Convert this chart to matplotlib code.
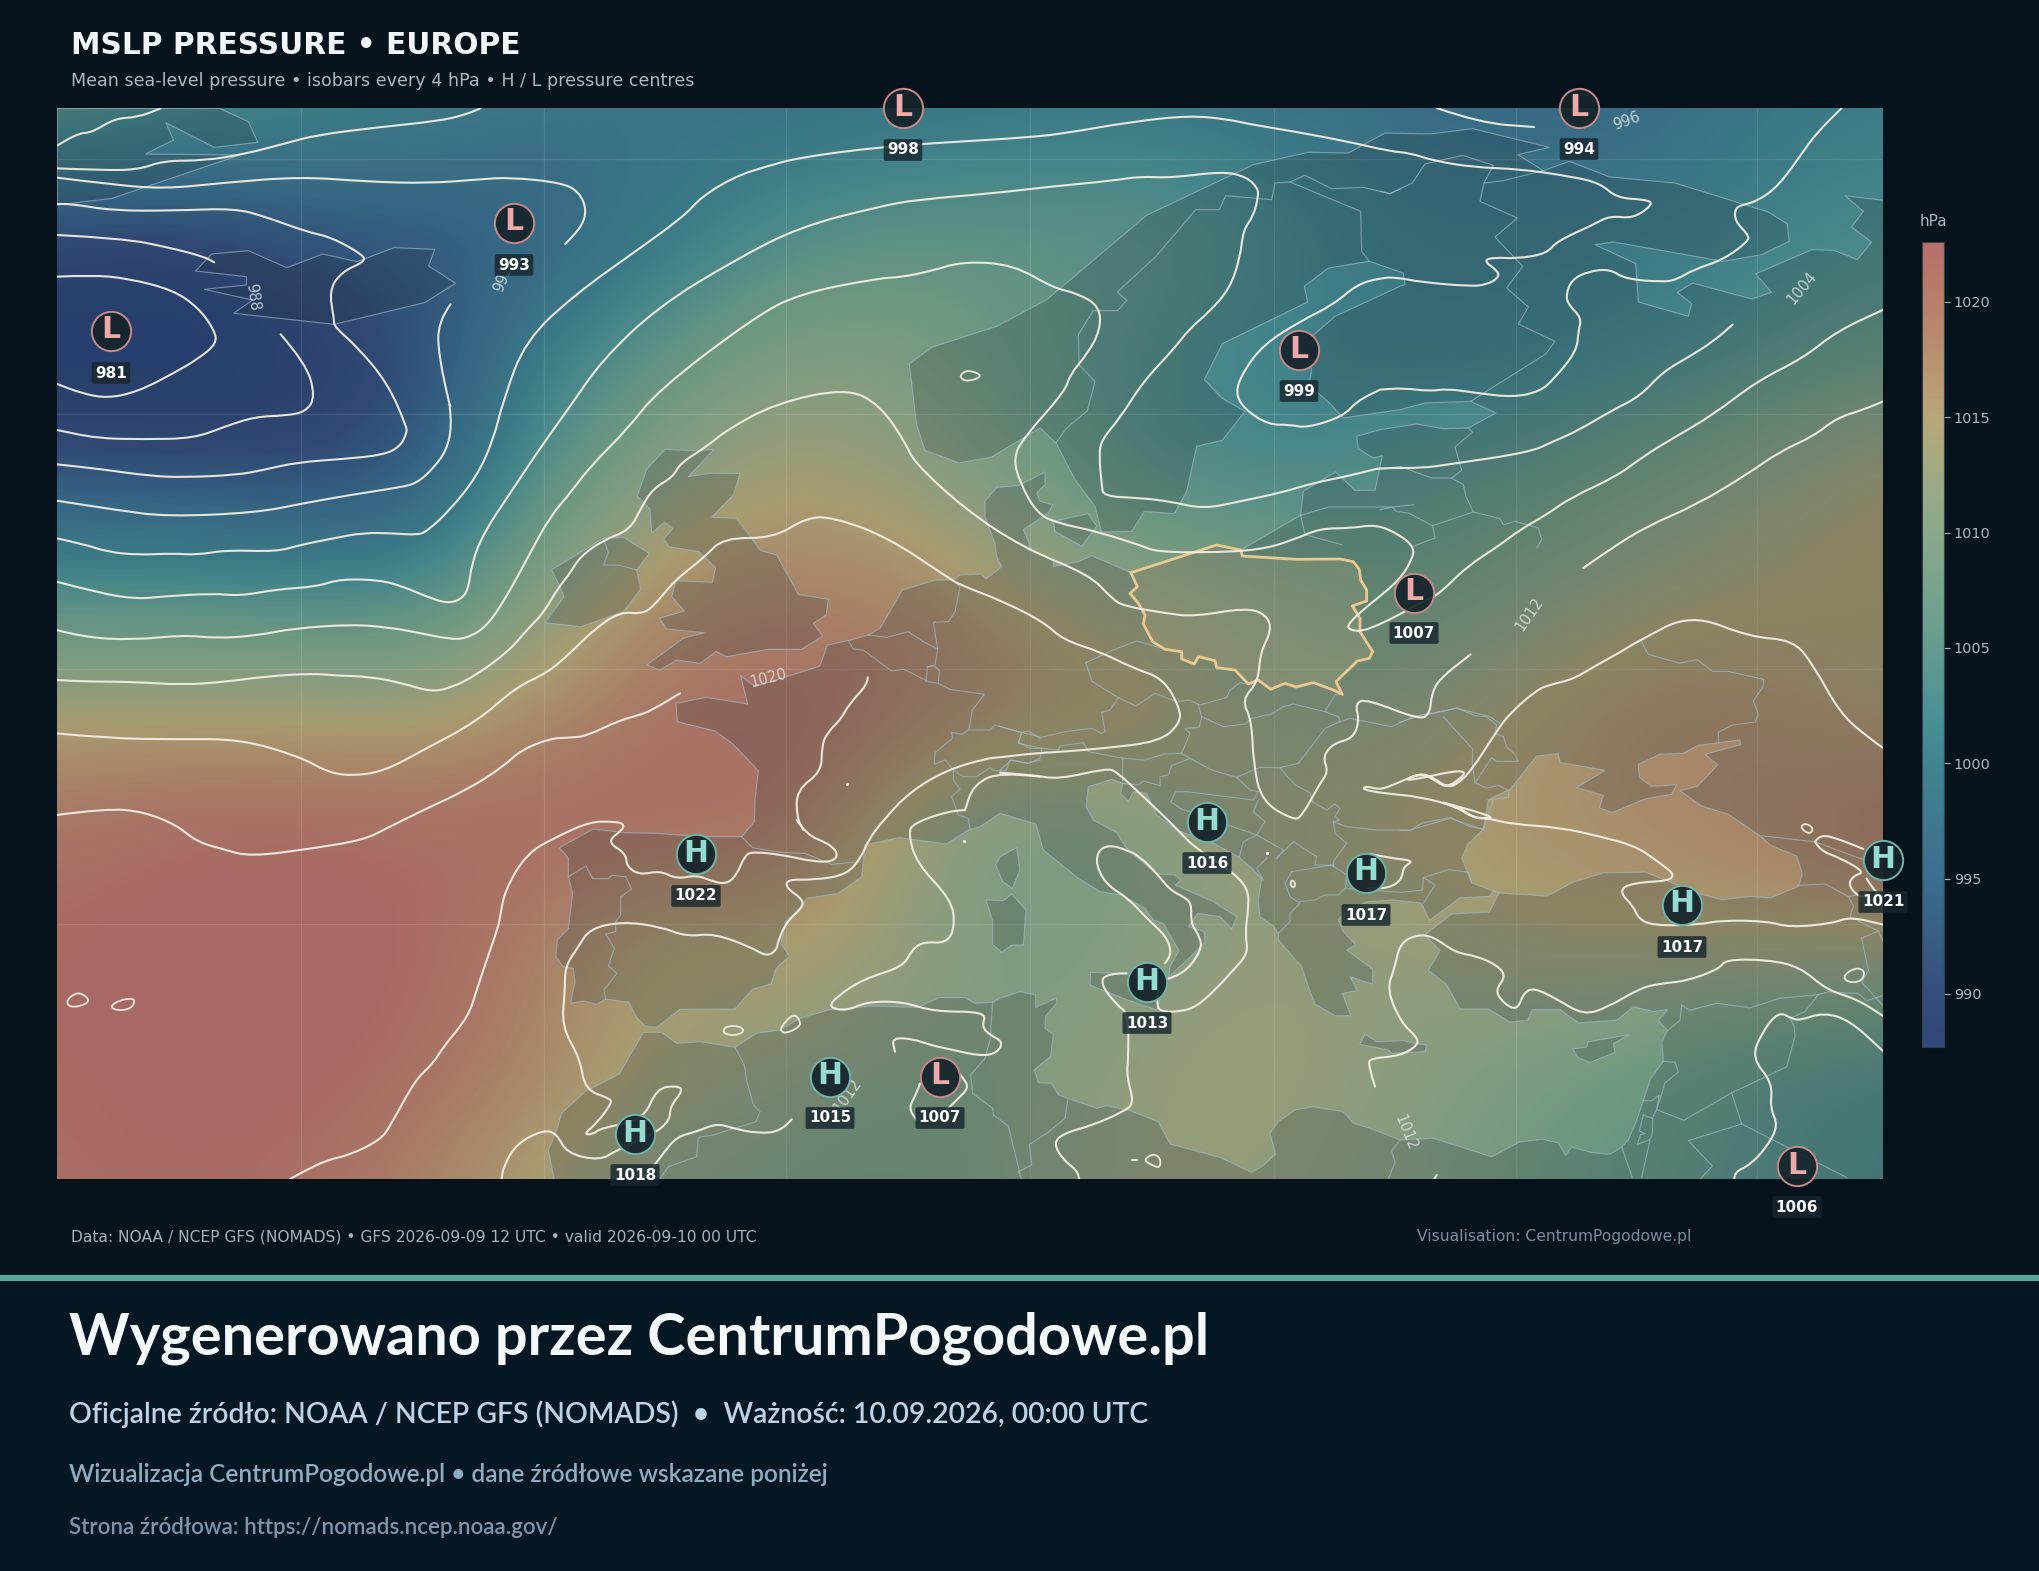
import numpy as np
import matplotlib
matplotlib.use("Agg")
import matplotlib.pyplot as plt
from matplotlib.colors import LinearSegmentedColormap, Normalize
from matplotlib.patches import PathPatch, Rectangle
from matplotlib.path import Path

W, H = 2040, 1571
MAP_L, MAP_R, MAP_T, MAP_B = 57, 1883, 108, 1179

# ---------- pressure field (hPa) ----------
grid_x = [57, 179, 301, 423, 544, 666, 788, 909, 1031, 1153, 1274, 1396, 1518, 1639, 1761, 1883]
grid_y = [108, 227, 346, 465, 584, 703, 822, 941, 1060, 1179]
row_0 = [1007, 1004, 1002, 1001, 999, 998, 997.5, 998.5, 999, 999, 998, 996.5, 995, 995.5, 999, 1000]
row_1 = [990, 989.5, 992.5, 993, 994, 999, 1003.5, 1005.5, 1005.5, 1006, 1003, 999.5, 999.5, 1000, 1001.5, 1003]
row_2 = [983, 982, 986, 990.5, 1000.5, 1006, 1010, 1010, 1006, 1003.5, 1001, 999.5, 1000, 1001, 1003, 1006]
row_3 = [991, 990.5, 989, 992, 1005, 1011, 1014.5, 1012, 1008, 1003.5, 1002, 1004, 1005, 1008, 1011.5, 1015]
row_4 = [1003, 1003, 1002.5, 1002.5, 1011, 1017, 1018, 1017.5, 1014, 1011, 1010, 1007, 1010, 1013, 1014.5, 1015.5]
row_5 = [1014, 1014, 1014, 1013, 1016.5, 1020, 1021.5, 1020, 1017.5, 1016.5, 1011, 1011.5, 1015, 1017.5, 1017, 1014.5]
row_6 = [1020, 1021.5, 1021.5, 1021.5, 1022, 1021.5, 1020.5, 1012.5, 1009, 1011, 1013.5, 1015.5, 1016, 1017, 1018.5, 1021]
row_7 = [1022, 1023, 1024, 1022, 1018, 1014, 1015, 1013, 1009, 1011, 1012.5, 1012, 1014.5, 1015, 1015, 1015]
row_8 = [1022, 1023, 1023, 1021, 1017.5, 1014, 1013, 1010, 1010.5, 1013, 1013.5, 1012, 1009.5, 1007.5, 1005, 1003]
row_9 = [1021, 1022, 1021, 1018, 1014, 1011, 1009, 1008.5, 1011, 1013, 1012.5, 1011, 1008, 1006.5, 1004, 1003]

cmap_levels = [981, 987.7, 990, 995, 1000, 1002, 1005, 1008, 1010, 1012, 1015, 1018, 1020, 1022.6]
cmap_colors = ['#263e72', '#2f4876', '#354f7d', '#3b6f8e', '#428490', '#4a9096', '#649c90', '#7ba68a', '#8aa98b',
               '#9aaa88', '#b8a878', '#b88f70', '#b97f6c', '#b8706a']
cbar_lo, cbar_hi = 987.7, 1022.6
cbar_bottom_colour = '#34497b'
cbar_ticks = [990, 995, 1000, 1005, 1010, 1015, 1020]

grid_lon = [301, 544, 786, 1030, 1274, 1516, 1757]
grid_lat = [159, 414, 669, 924]

# ---------- pressure centres ----------
centre_kind = ['L', 'L', 'L', 'L', 'L', 'L', 'H', 'H', 'H', 'H', 'H', 'H', 'H', 'L', 'H', 'L']
centre_val = [981, 993, 998, 994, 999, 1007, 1022, 1016, 1017, 1017, 1021, 1013, 1015, 1007, 1018, 1006]
centre_x = [111, 514, 903, 1579, 1299, 1414, 696, 1207, 1366, 1682, 1883, 1147, 830, 940, 635, 1797]
centre_y = [331, 223, 108, 108, 350, 593, 854, 822, 873, 905, 860, 982, 1077, 1077, 1134, 1166]
label_y = [373, 265, 150, 149, 391, 633, 896, 863, 915, 947, 902, 1023, 1118, 1118, 1175, 1207]

# ---------- isobar labels ----------
iso_text = ['988', '992', '1020', '996', '1004', '1012', '1012', '1012']
iso_x = [253, 503, 768, 1627, 1802, 1529, 847, 1406]
iso_y = [297, 278, 678, 121, 288, 614, 1095, 1133]
iso_rot = [-82, 68, 14, 20, 50, 55, 55, -68]

# ---------- traced geometry: reference frames of the reading ----------
F1 = (0, 0, 1.96, 3)
F4 = (1000, 500, 3, 3)
F5 = (880, 108, 3, 3)
F6 = (1380, 108, 3, 3)
F7 = (520, 430, 3, 3)
F8 = (500, 800, 3, 3)
F9 = (1000, 800, 3, 3)
F10 = (1400, 640, 3, 2.8)
F11 = (50, 400, 3, 3)
F12 = (50, 790, 3, 3)


def C(frame, pts):
    x0, y0, sx, sy = frame
    return [(x0 + a / sx, y0 + b / sy) for a, b in pts]


def chain(*parts):
    out = []
    for p in parts:
        out += p
    return out


coast_main = chain(
    C(F8, [(162, 1137), (145, 1050), (170, 990), (185, 940), (255, 875), (358, 822), (430, 697), (485, 697), (530, 730), (600, 725), (705, 742), (770, 700), (840, 690), (900, 655), (985, 630), (1120, 618), (1255, 622), (1315, 593), (1395, 593), (1425, 610), (1478, 607)]),
    C(F9, [(0, 595), (60, 575), (107, 585), (107, 622), (168, 595), (172, 607), (137, 648), (135, 685), (160, 703), (152, 768), (103, 810), (115, 848), (155, 850), (175, 885), (290, 925), (320, 917), (385, 930), (475, 965), (510, 1032), (660, 1072), (755, 1117), (790, 1097), (827, 1062), (810, 1000), (835, 965), (885, 930), (938, 920), (1030, 935), (1060, 970), (1110, 985), (1200, 1020)]),
    C(F10, [(100, 1395), (275, 1447), (360, 1405), (425, 1398), (475, 1408), (497, 1443), (515, 1420), (575, 1435), (630, 1440), (665, 1420), (685, 1400), (710, 1345), (730, 1290), (752, 1228), (790, 1180), (785, 1125), (803, 1093), (775, 1065), (803, 1035), (760, 1040), (700, 1027), (650, 1065), (535, 1072), (480, 1035), (397, 1035), (383, 1065), (330, 1070), (265, 1033), (180, 1033), (140, 965), (85, 925), (120, 870), (75, 825), (155, 767), (268, 762), (297, 708), (280, 703), (268, 718), (180, 722), (88, 785), (65, 737)]),
    C(F9, [(1180, 300), (1100, 305), (1030, 340), (1015, 360), (1030, 395), (1067, 435), (1040, 450), (1118, 508), (1118, 552), (1050, 530), (1072, 572), (1027, 580), (1052, 647), (1005, 647), (945, 612), (925, 560), (905, 500), (835, 420), (835, 400), (820, 378), (780, 350), (775, 300), (785, 235), (745, 195), (715, 170), (640, 130), (530, 90), (470, 45)]),
    C(F4, [(440, 880), (400, 875), (385, 905), (362, 880), (368, 850), (335, 838), (265, 860)]),
    C(F9, [(258, 20), (280, 60), (350, 98), (380, 145), (470, 222), (525, 225), (543, 240), (525, 255), (640, 305), (710, 350), (695, 387), (660, 350), (593, 340), (565, 380), (612, 395), (615, 425), (580, 462), (507, 530), (510, 500), (537, 452), (490, 370), (460, 360), (435, 325), (365, 285), (300, 275), (235, 235), (130, 150), (108, 72), (0, 40)]),
    C(F8, [(1440, 80), (1405, 90), (1340, 132), (1197, 113), (1095, 135), (1085, 230), (1015, 280), (920, 295), (905, 320), (857, 365), (843, 430), (868, 470), (828, 505), (813, 552), (757, 568), (705, 627), (540, 628), (470, 682), (435, 678), (410, 653), (387, 607), (317, 597), (290, 613), (250, 603), (212, 610), (225, 545), (220, 505), (190, 500), (167, 470), (172, 420), (205, 385), (218, 280), (205, 230), (205, 175), (178, 143), (280, 87), (375, 98), (470, 100), (600, 110), (725, 110), (763, 65), (765, 0)]),
    C(F7, [(715, 1022), (640, 943), (585, 903), (472, 875), (468, 820), (560, 802), (683, 822), (662, 737), (705, 770), (900, 708), (922, 645), (985, 632), (1045, 615), (1080, 595), (1147, 480), (1247, 450), (1300, 450), (1320, 435), (1383, 432), (1398, 447), (1445, 410), (1430, 380), (1425, 340), (1395, 260), (1395, 215)]),
    C(F5, [(350, 1138), (415, 1133), (495, 1092), (495, 1130), (470, 1155), (480, 1180), (518, 1190), (505, 1215), (430, 1265), (447, 1305)]),
    C(F4, [(88, 150), (160, 178), (160, 200), (235, 185), (275, 167), (393, 218), (650, 135), (722, 150)]),
    C(F5, [(1262, 1222), (1270, 1150), (1367, 1092), (1425, 1147), (1485, 1147), (1507, 1043), (1480, 1050), (1435, 1022), (1430, 985), (1500, 965), (1610, 948), (1690, 962), (1765, 960), (1848, 915), (1772, 880), (1635, 885), (1560, 905), (1390, 930), (1350, 887), (1287, 830), (1295, 785), (1262, 715), (1365, 625), (1560, 535)]),
    C(F6, [(75, 530), (70, 495)]),
    C(F5, [(1468, 460), (1345, 480), (1273, 535), (1283, 582), (1027, 707), (973, 815), (1025, 870), (1095, 910), (1027, 997), (950, 1015), (920, 1150), (883, 1217), (793, 1210), (755, 1270), (665, 1272), (645, 1195), (585, 1115), (528, 1005), (480, 960), (335, 1047), (238, 1065), (135, 1027), (110, 950), (88, 768), (155, 718), (350, 655), (500, 575), (800, 322), (1120, 170), (1285, 133), (1405, 135), (1515, 75)]),
    C(F6, [(150, 78), (278, 62), (508, 118), (413, 140), (490, 188), (568, 160), (690, 207), (885, 225), (1165, 312), (1222, 348), (1227, 400), (1145, 440), (1030, 460), (700, 402), (645, 410), (767, 467), (775, 582), (925, 625), (935, 587), (892, 553), (938, 525), (1115, 573), (1175, 553), (1127, 498), (1295, 425), (1362, 427), (1432, 455), (1475, 402), (1415, 357), (1450, 310), (1395, 263), (1510, 277)]),
)
black_sea = C(F10, [(265, 447), (330, 418), (410, 325), (475, 318), (480, 343), (615, 365), (530, 413), (610, 435), (598, 470), (637, 483), (735, 445), (815, 432), (830, 405), (755, 410), (718, 385), (715, 348), (780, 320), (850, 317), (895, 295), (1020, 280), (1022, 293), (915, 320), (953, 350), (892, 410), (840, 422), (905, 465), (985, 488), (1080, 548), (1112, 575), (1190, 605), (1207, 655), (1195, 690), (1112, 722), (1050, 718), (965, 727), (905, 712), (825, 683), (735, 650), (610, 652), (520, 678), (440, 717), (295, 708), (280, 703), (215, 680), (185, 610), (205, 570), (250, 530)])

islands = [
    C(F7, [(250, 325), (310, 322), (388, 370), (350, 420), (362, 478), (310, 545), (183, 590), (75, 578), (132, 500), (120, 470), (95, 420)]),
    C(F7, [(435, 58), (527, 62), (582, 58), (505, 140), (570, 130), (660, 130), (640, 195), (575, 262), (650, 265), (722, 362), (770, 375), (835, 493), (925, 508), (918, 555), (880, 580), (908, 618), (845, 658), (745, 658), (620, 680), (588, 665), (540, 700), (470, 690), (420, 720), (380, 705), (490, 625), (553, 608), (440, 597), (418, 565), (493, 543), (455, 500), (468, 452), (577, 457), (587, 413), (537, 365), (447, 350), (432, 328), (458, 295), (433, 277), (395, 310), (390, 237), (352, 198), (380, 118)]),
    C(F1, [(415, 762), (487, 752), (562, 803), (633, 762), (700, 785), (772, 743), (852, 748), (840, 798), (893, 850), (832, 908), (655, 973), (458, 940), (495, 900), (400, 868), (483, 855), (483, 830), (383, 813)]),
    C(F1, [(430, 325), (487, 365), (505, 427), (420, 442), (325, 368), (340, 420), (285, 462), (470, 465), (220, 595), (112, 615), (112, 325)]),
    C(F5, [(520, 1240), (625, 1217), (650, 1255), (605, 1315), (525, 1270)]),
    C(F8, [(1458, 300), (1510, 302), (1535, 282), (1578, 330), (1570, 435), (1535, 435), (1505, 457), (1478, 433), (1478, 365)]),
    C(F8, [(1487, 195), (1500, 170), (1550, 143), (1560, 210), (1537, 265), (1508, 245)]),
    C(F9, [(272, 517), (345, 520), (500, 530), (470, 630), (370, 595), (270, 555)]),
    C(F9, [(1095, 702), (1130, 725), (1210, 722), (1245, 730), (1280, 735), (1275, 755), (1175, 760), (1165, 750), (1080, 733)]),
    C(F10, [(518, 1145), (560, 1140), (565, 1125), (688, 1105), (640, 1130), (645, 1155), (570, 1183), (535, 1170)]),
]

poland = C(F4, [(393, 218), (650, 135), (722, 150), (727, 168), (888, 178), (1020, 177), (1060, 185), (1078, 208), (1082, 240), (1100, 270), (1100, 303), (1057, 318), (1080, 355), (1080, 395), (1118, 455), (1108, 475), (1072, 483), (1008, 545), (1027, 583), (1000, 570), (940, 548), (888, 561), (855, 550), (812, 568), (775, 540), (745, 552), (705, 510), (650, 503), (645, 482), (595, 470), (583, 492), (545, 477), (545, 455), (495, 448), (458, 425), (430, 372), (435, 345), (415, 310), (390, 280), (412, 260), (393, 218)])

borders = [
    C(F5, [(528, 1005), (560, 960), (622, 908), (645, 820), (597, 770), (595, 680), (640, 608), (713, 608), (740, 577), (712, 552), (828, 445), (947, 305), (1018, 305), (1037, 263), (1175, 275), (1185, 225), (1230, 222), (1275, 202), (1355, 242), (1450, 238), (1530, 257), (1560, 243)]),
    C(F5, [(1230, 222), (1442, 310), (1445, 430), (1468, 460)]),
    C(F5, [(1262, 1222), (1345, 1197), (1540, 1197), (1600, 1190)]),
    C(F5, [(1262, 1222), (1275, 1280), (1385, 1310)]),
    C(F6, [(0, 250), (30, 257), (97, 225), (135, 168), (248, 142), (340, 172), (312, 225), (300, 280), (412, 330), (345, 387), (428, 475), (380, 540), (445, 597), (415, 648), (525, 700), (497, 738), (272, 880)]),
    C(F6, [(313, 225), (370, 218), (490, 188)]),
    C(F6, [(265, 960), (278, 972), (225, 1017), (245, 1087), (215, 1110), (155, 1110), (60, 1075), (0, 1085)]),
    C(F6, [(215, 1110), (250, 1130), (258, 1165), (280, 1212), (158, 1253), (165, 1290), (100, 1315)]),
    C(F6, [(280, 1212), (360, 1232), (370, 1250), (405, 1240), (475, 1260), (485, 1295), (470, 1320)]),
    C(F6, [(158, 1253), (85, 1215), (48, 1210), (38, 1197), (0, 1205)]),
    C(F7, [(250, 325), (265, 368), (250, 405), (295, 405), (350, 420)]),
    C(F7, [(985, 632), (1000, 657), (1030, 660), (1115, 723), (1152, 718), (1225, 755), (1255, 760), (1290, 778), (1393, 793), (1357, 840), (1347, 900), (1410, 900), (1425, 885), (1505, 908), (1525, 903), (1560, 925)]),
    C(F7, [(1045, 615), (1100, 622), (1165, 605), (1210, 635), (1253, 657), (1240, 577), (1285, 575), (1305, 545), (1320, 470), (1300, 450)]),
    C(F7, [(1253, 657), (1245, 705), (1222, 710), (1218, 755)]),
    C(F7, [(1222, 710), (1245, 708), (1258, 722), (1255, 760)]),
    C(F7, [(1347, 900), (1325, 913), (1295, 907), (1297, 925), (1245, 968), (1243, 1003), (1275, 990), (1300, 1020), (1330, 1040), (1370, 1040), (1410, 1013), (1425, 1022), (1458, 1022), (1470, 990), (1525, 1000), (1560, 990)]),
    C(F7, [(1505, 908), (1495, 937), (1530, 955), (1560, 955)]),
    C(F7, [(1300, 1020), (1300, 1050), (1320, 1077), (1295, 1100), (1315, 1155), (1345, 1165), (1350, 1200)]),
    C(F8, [(725, 110), (757, 143), (843, 157), (915, 160), (995, 193), (1080, 185)]),
    C(F8, [(205, 230), (258, 198), (278, 236), (325, 236), (335, 226), (377, 230), (395, 267), (362, 290), (362, 345), (347, 365), (347, 395), (317, 402), (343, 445), (325, 497), (350, 520), (312, 570), (317, 597)]),
    C(F8, [(705, 742), (733, 795), (740, 840), (760, 915), (780, 935), (768, 965), (640, 1005), (595, 1012), (590, 1070), (505, 1100), (480, 1137)]),
    C(F8, [(1478, 607), (1470, 720), (1455, 775), (1412, 825), (1418, 880), (1478, 925), (1480, 945), (1525, 978), (1560, 1120)]),
    C(F9, [(203, 900), (195, 955), (140, 1000), (88, 1033), (95, 1095), (55, 1115), (65, 1137)]),
    C(F9, [(1200, 1020), (1175, 1052), (1185, 1087), (1165, 1137)]),
    C(F4, [(258, 488), (335, 452), (410, 423), (435, 430), (495, 448)]),
    C(F4, [(258, 488), (275, 543), (355, 593), (408, 618), (465, 580), (530, 605), (568, 600), (600, 615), (680, 592), (690, 570), (720, 548), (745, 552)]),
    C(F4, [(355, 593), (330, 630), (305, 637), (315, 695), (305, 700), (275, 685), (195, 695), (125, 712), (65, 697), (0, 680)]),
    C(F4, [(65, 697), (55, 730), (125, 745), (120, 775), (85, 790), (35, 780), (0, 810)]),
    C(F4, [(125, 745), (175, 750), (180, 738), (250, 728), (265, 755), (370, 775), (432, 780), (495, 762), (545, 760), (570, 700), (555, 685), (598, 682), (605, 650), (595, 615)]),
    C(F4, [(605, 650), (670, 680), (735, 672), (755, 655), (800, 645), (810, 645), (850, 620), (880, 612), (975, 635), (1015, 650), (1020, 665), (1050, 655), (1175, 680), (1240, 650), (1370, 625), (1470, 650), (1500, 670)]),
    C(F4, [(975, 635), (1005, 585), (1027, 583)]),
    C(F4, [(1020, 665), (975, 685), (895, 790), (840, 803), (780, 802), (710, 832), (635, 810), (570, 775), (515, 797), (505, 825), (480, 830), (480, 857), (430, 843), (415, 855), (368, 850), (368, 775)]),
    C(F4, [(545, 760), (570, 775)]),
    C(F4, [(840, 803), (885, 855), (930, 878), (937, 905), (980, 930), (1005, 912), (1020, 925), (1005, 950), (1018, 960), (1000, 965), (1005, 1000), (1040, 1030), (1000, 1085), (1000, 1100)]),
    C(F4, [(1000, 965), (1040, 980), (1130, 990), (1230, 990), (1350, 955), (1450, 988), (1480, 900)]),
    C(F4, [(710, 832), (750, 870), (775, 875), (760, 900), (560, 875), (527, 875), (513, 905), (540, 925), (770, 1005)]),
    C(F4, [(775, 900), (760, 935), (795, 965), (770, 1005), (730, 1025), (718, 1070)]),
    C(F4, [(770, 1005), (850, 1050), (830, 1075), (880, 1025), (950, 1070), (945, 1095), (1000, 1095)]),
    C(F9, [(800, 175), (770, 205), (790, 240)]),
    C(F9, [(875, 215), (995, 195), (1040, 225), (1037, 265), (1100, 270), (1205, 277), (1268, 270), (1270, 232), (1305, 255), (1270, 310)]),
    C(F9, [(875, 215), (855, 250), (870, 290), (900, 310), (870, 340), (870, 365), (835, 400)]),
    C(F9, [(900, 305), (945, 300), (975, 285), (1015, 285), (1035, 265)]),
    C(F10, [(0, 230), (65, 210), (105, 205), (170, 190), (225, 212), (260, 215), (290, 238), (285, 262), (310, 270), (320, 300), (345, 320), (355, 340), (290, 340), (275, 330), (225, 400), (260, 415), (295, 407), (327, 422), (325, 440), (270, 447)]),
    C(F10, [(130, 215), (218, 305), (217, 350), (225, 400)]),
    C(F10, [(0, 533), (30, 533), (68, 512), (152, 497), (208, 522), (250, 530)]),
    C(F10, [(70, 665), (145, 643), (205, 650), (215, 680)]),
    C(F10, [(722, 0), (745, 40), (838, 65), (892, 55), (938, 88), (985, 88), (1090, 110), (1090, 130), (1060, 170), (1075, 208), (1065, 230), (997, 238), (955, 258), (955, 290)]),
    C(F10, [(1085, 548), (1245, 565), (1375, 610), (1400, 615)]),
    C(F10, [(1195, 687), (1275, 683), (1345, 718), (1360, 745), (1350, 775), (1435, 815), (1450, 845)]),
    C(F10, [(1345, 718), (1400, 710)]),
    C(F10, [(1385, 835), (1435, 815)]),
    C(F10, [(1385, 835), (1405, 925), (1385, 958), (1450, 1025)]),
    C(F10, [(803, 1093), (840, 1065), (845, 1022), (868, 1037), (950, 1017), (1050, 1030), (1140, 1003), (1255, 993), (1285, 985), (1375, 990), (1400, 1010), (1450, 995)]),
    C(F10, [(1255, 993), (1215, 1040), (1170, 1060), (1182, 1080), (1185, 1110), (1160, 1195), (995, 1268), (852, 1345), (770, 1315), (778, 1275), (755, 1290), (725, 1290)]),
    C(F10, [(790, 1180), (825, 1182), (835, 1210), (795, 1240), (775, 1300), (770, 1315), (757, 1340)]),
    C(F10, [(995, 1268), (1025, 1355), (865, 1402), (937, 1473), (902, 1508)]),
    C(F10, [(1025, 1355), (1340, 1505)]),
    C(F10, [(730, 1330), (758, 1340), (757, 1385), (748, 1400), (712, 1412), (722, 1385), (735, 1382), (718, 1375), (730, 1330)]),
    C(F10, [(750, 1400), (725, 1505)]),
    C(F10, [(665, 1420), (697, 1505)]),
]

isobars = [
    C(F1, [(112, 437), (150, 400), (180, 398), (225, 355), (270, 352), (315, 325)]),
    C(F1, [(112, 505), (190, 510), (270, 510), (320, 482), (400, 482), (480, 462), (560, 430), (620, 405), (740, 382), (860, 363), (910, 345), (942, 325)]),
    C(F1, [(112, 533), (210, 552), (320, 567), (440, 548), (590, 530), (720, 545), (840, 550), (940, 538), (1000, 532), (1100, 548), (1135, 575), (1150, 630), (1140, 680), (1108, 732)]),
    chain(C(F1, [(112, 612), (135, 610), (220, 632), (340, 632), (460, 625), (520, 650), (600, 695), (650, 712), (712, 765), (715, 785), (670, 815), (645, 870), (655, 960), (655, 980), (700, 1040), (760, 1150), (797, 1280)]),
          C(F11, [(1070, 100), (1050, 140), (1000, 165), (880, 177), (740, 187), (640, 210), (560, 225), (400, 232), (300, 228), (150, 207), (20, 193)])),
    C(F1, [(112, 705), (240, 715), (330, 742), (400, 770), (420, 787)]),
    C(F1, [(550, 1003), (600, 1090), (618, 1190), (600, 1235), (560, 1247), (500, 1250), (440, 1280), (380, 1315), (280, 1318), (190, 1315), (112, 1290)]),
    C(F1, [(112, 830), (180, 825), (250, 835), (340, 870), (390, 925), (420, 990), (425, 1030), (390, 1075), (340, 1120), (270, 1175), (210, 1195), (160, 1180), (112, 1152)]),
    chain(C(F1, [(883, 913), (858, 965), (860, 1070), (885, 1240)]),
          C(F11, [(1197, 0), (1205, 80), (1190, 150), (1150, 205), (1100, 250), (1050, 262), (900, 285), (760, 310), (620, 338), (350, 350), (200, 330), (20, 302)])),
    chain(C(F11, [(20, 415), (100, 432), (170, 455), (260, 465), (370, 460), (440, 465), (530, 450), (680, 455), (750, 435), (850, 415), (940, 398), (1030, 400), (1100, 405), (1130, 395), (1200, 330), (1280, 230), (1330, 120), (1360, 0)]),
          C(F1, [(1030, 1020), (1130, 880), (1240, 760), (1340, 650), (1375, 590), (1440, 530), (1500, 500), (1568, 472)]),
          C(F5, [(0, 117), (200, 103), (450, 88), (560, 75), (750, 42), (930, 22), (1050, 35), (1100, 47), (1240, 70), (1400, 100), (1530, 130)]),
          C(F6, [(90, 135), (160, 158), (280, 178), (420, 183), (570, 205), (660, 225), (710, 270), (800, 275), (820, 288), (760, 332), (690, 323), (640, 350), (530, 400), (500, 437), (410, 452), (340, 448), (310, 458), (355, 490), (355, 510), (320, 530), (270, 535), (120, 522), (50, 508), (0, 510)]),
          C(F5, [(1430, 530), (1360, 590), (1260, 640), (1150, 710), (1090, 790), (1065, 855), (1095, 905), (1165, 950), (1230, 950), (1280, 960), (1390, 925), (1430, 880), (1500, 845)]),
          C(F6, [(0, 845), (70, 840), (150, 850), (200, 842), (290, 855), (400, 868), (480, 850), (520, 815), (590, 730), (595, 670), (605, 630), (565, 590), (558, 560), (575, 515), (625, 490), (690, 483), (735, 513), (850, 522), (890, 515), (940, 485), (1030, 455), (1105, 400), (1105, 380), (1065, 340), (1065, 300), (1090, 290), (1130, 280), (1195, 235), (1270, 130), (1310, 75), (1385, 0)])),
    C(F6, [(170, 0), (300, 45), (462, 57)]),
    chain(C(F11, [(20, 545), (150, 580), (260, 597), (330, 590), (490, 580), (570, 588), (680, 568), (800, 560), (870, 537), (990, 540), (1060, 560), (1130, 590), (1190, 610), (1230, 600), (1255, 570), (1265, 490), (1300, 400), (1380, 280), (1480, 130), (1560, 20)]),
          C(F1, [(1180, 1080), (1290, 920), (1440, 780), (1568, 680)]),
          C(F5, [(0, 295), (110, 275), (350, 255), (500, 237), (700, 218), (780, 205), (870, 210), (1030, 190), (1100, 207), (1133, 240), (1135, 265), (1120, 325), (1090, 365), (1080, 450), (1050, 540), (990, 610), (930, 660), (880, 725), (790, 820), (720, 930), (665, 995), (657, 1040), (665, 1130), (670, 1165), (780, 1170), (870, 1180), (970, 1203), (1080, 1180), (1200, 1155), (1300, 1125), (1400, 1105), (1480, 1085)]),
          C(F6, [(0, 1080), (130, 1080), (200, 1070), (450, 1033), (520, 1000), (590, 970), (700, 905), (780, 865), (850, 790), (930, 745), (1000, 700), (1058, 650)])),
    chain(C(F11, [(20, 690), (100, 712), (250, 720), (400, 705), (500, 715), (620, 707), (730, 685), (910, 673), (1020, 683), (1100, 697), (1200, 718), (1250, 715), (1310, 680), (1370, 590), (1440, 460), (1500, 350), (1560, 280)]),
          C(F7, [(210, 110), (320, 0)]),
          C(F1, [(1290, 1170), (1480, 950), (1568, 880)]),
          C(F5, [(0, 510), (60, 508), (150, 490), (250, 460), (400, 470), (520, 540), (590, 555), (660, 595), (660, 670), (620, 740), (570, 800), (555, 850), (430, 990), (400, 1050), (420, 1125), (470, 1215), (530, 1245), (650, 1270), (790, 1315)]),
          C(F4, [(470, 155), (620, 158), (780, 150), (880, 120), (960, 85), (1050, 85), (1130, 73), (1200, 105), (1240, 140), (1240, 170), (1200, 240), (1100, 320), (1045, 370), (1045, 390), (1100, 395), (1280, 300), (1320, 280), (1400, 200), (1500, 135)]),
          C(F6, [(420, 1265), (500, 1220), (570, 1170), (710, 1105), (790, 1045), (880, 990), (1000, 920), (1130, 820), (1270, 750), (1370, 670), (1510, 605)])),
    chain(C(F11, [(20, 840), (100, 845), (240, 845), (400, 855), (530, 845), (640, 830), (785, 820), (860, 827), (960, 830), (1060, 850), (1140, 875), (1200, 865), (1280, 825), (1380, 750), (1430, 690), (1480, 640), (1520, 570), (1560, 520)]),
          C(F7, [(180, 380), (250, 330), (330, 300), (365, 230), (400, 175), (460, 140), (480, 100), (560, 50), (620, 0)]),
          C(F1, [(1520, 1210), (1658, 1164)]),
          C(F5, [(0, 890), (80, 1010), (100, 1060), (250, 1200), (430, 1320)]),
          C(F4, [(270, 225), (335, 295), (370, 318), (500, 340), (580, 350), (740, 323), (800, 345), (815, 390), (780, 460), (775, 545), (725, 600), (755, 660), (760, 790), (785, 905), (880, 960), (905, 950), (960, 850), (985, 815), (968, 770), (1000, 730), (1060, 715), (1078, 660), (1065, 610), (1100, 597), (1260, 660), (1290, 640), (1295, 580), (1320, 535), (1412, 463)])),
    C(F6, [(610, 1380), (695, 1320), (800, 1255), (950, 1190), (1100, 1100), (1200, 1030), (1300, 985), (1370, 930), (1450, 905), (1510, 880)]),
    chain(C(F11, [(20, 1000), (170, 1015), (380, 1018), (570, 1017), (750, 1070), (830, 1115), (900, 1128), (1000, 1115), (1120, 1050), (1280, 965), (1400, 860), (1490, 820), (1560, 760)]),
          C(F7, [(220, 600), (300, 545), (365, 552), (400, 530), (465, 450), (550, 385), (610, 323), (760, 325), (860, 262), (940, 262), (1100, 320), (1280, 440), (1320, 465)]),
          C(F4, [(0, 300), (130, 365), (190, 420), (300, 455), (400, 505), (490, 535), (540, 625), (540, 670), (480, 725), (310, 745), (190, 755), (100, 760), (0, 772)]),
          C(F7, [(1400, 985), (1280, 1020), (1170, 1085), (1090, 1170)]),
          C(F8, [(1105, 120), (1085, 170), (1040, 225), (940, 240), (860, 238), (860, 265), (905, 295), (910, 320), (860, 365), (835, 420), (830, 450), (800, 470), (750, 440), (640, 400), (560, 410), (480, 380), (370, 365), (270, 385), (235, 440), (195, 500), (195, 570), (185, 680), (240, 775), (255, 870), (330, 895), (335, 910), (290, 970), (250, 1003), (280, 1003), (300, 985), (430, 960), (470, 865), (530, 857), (550, 870), (510, 920), (510, 960), (465, 1000), (350, 1050), (300, 1082), (200, 1060), (170, 1000), (130, 990), (50, 1030), (10, 1100), (5, 1137)])),
    chain(C(F4, [(0, 818), (100, 825), (175, 838), (320, 805), (350, 815), (430, 890)]),
          C(F9, [(530, 85), (580, 140), (690, 210), (745, 265), (745, 330), (735, 400), (745, 460), (700, 510), (650, 565), (590, 620), (540, 635), (480, 635), (470, 610), (475, 570)])),
    C(F9, [(380, 520), (320, 520), (300, 550), (350, 615), (385, 640), (385, 770), (380, 830), (403, 910), (370, 935), (280, 975), (190, 1000), (160, 1030), (190, 1080), (230, 1110), (238, 1137)]),
    chain(C(F7, [(1560, 1040), (1440, 1025), (1360, 1065), (1335, 1140)]),
          C(F8, [(1395, 30), (1340, 35), (1240, 70), (1225, 100), (1250, 190), (1355, 300), (1365, 380), (1340, 430), (1270, 425), (1235, 450), (1210, 500), (1090, 537), (1010, 590), (985, 622), (1040, 633), (1100, 605), (1210, 605), (1300, 635), (1460, 635), (1445, 680), (1470, 705), (1510, 725), (1490, 760), (1440, 768), (1360, 750), (1290, 735), (1240, 717), (1175, 713), (1185, 755)])),
    C(F8, [(875, 958), (845, 995), (770, 1000), (700, 985), (650, 970), (590, 995), (530, 1010), (490, 1060), (460, 1100), (425, 1137)]),
    C(F8, [(1340, 930), (1370, 900), (1405, 865), (1395, 840), (1360, 800)]),
    C(F8, [(1260, 850), (1250, 880), (1225, 925), (1250, 960)]),
    C(F9, [(498, 538), (550, 525), (605, 450), (600, 410), (572, 370), (575, 310), (550, 290), (510, 270), (470, 220), (420, 170), (380, 150), (330, 135), (295, 150), (288, 195), (320, 255), (385, 295), (440, 355), (500, 410), (515, 460), (495, 490)]),
    C(F9, [(1110, 162), (1175, 175), (1243, 182), (1210, 200), (1205, 240), (1165, 265), (1100, 265)]),
    chain(C(F12, [(20, 75), (170, 55), (280, 65), (380, 105), (440, 155), (520, 178), (600, 200), (790, 175), (940, 150), (1010, 115), (1120, 60), (1250, 0)]),
          C(F11, [(1360, 1100), (1410, 1052), (1500, 1015), (1560, 1013)]),
          C(F7, [(200, 918), (300, 870), (360, 855), (400, 838), (480, 790)])),
    C(F7, [(1043, 742), (1045, 760), (985, 825), (965, 865), (920, 910), (905, 950), (905, 1025), (830, 1080), (830, 1160), (850, 1200)]),
    chain(C(F8, [(890, 60), (920, 105), (985, 130), (1015, 160), (1000, 185), (940, 185), (850, 165), (760, 155), (735, 165), (710, 225), (680, 252), (640, 245), (590, 225), (530, 237), (480, 212), (420, 225), (380, 200), (378, 160), (320, 125), (370, 88), (370, 70), (340, 65), (270, 65), (170, 110), (80, 160), (15, 270), (0, 350)]),
          C(F12, [(1345, 410), (1310, 510), (1280, 600), (1255, 680), (1180, 770), (1150, 820), (1095, 870), (1020, 1010), (990, 1050), (900, 1095), (830, 1110), (760, 1145), (720, 1167)])),
    chain(C(F10, [(1450, 303), (1400, 270), (1320, 205), (1240, 70), (1180, 0), (1050, -8), (873, -73), (720, 0), (650, 40), (590, 70), (520, 110), (450, 125), (410, 140), (330, 205), (290, 255), (215, 365), (170, 405), (140, 412), (100, 385), (60, 372), (0, 400)]),
          C(F4, [(1420, 800), (1345, 865), (1310, 845), (1265, 818), (1190, 850), (1140, 870), (1100, 858), (1085, 868), (1150, 880), (1260, 890), (1370, 920), (1420, 955), (1500, 955)]),
          C(F10, [(100, 447), (180, 470), (225, 500), (260, 498), (330, 515), (480, 525), (600, 550), (700, 575), (760, 610), (845, 672), (690, 680), (657, 705), (700, 745), (715, 780), (760, 800), (900, 797), (960, 785), (1100, 787), (1170, 805), (1300, 793), (1350, 775), (1450, 797)])),
    chain(C(F9, [(1125, 860), (1105, 795), (1110, 775), (1200, 768), (1255, 735), (1250, 710), (1205, 670), (1160, 570), (1185, 500), (1200, 430)]),
          C(F10, [(50, 825), (100, 830), (165, 875), (230, 885), (290, 910), (318, 940), (290, 975), (295, 1000), (330, 1030), (355, 1030), (370, 990), (400, 973), (470, 1005), (550, 1050), (620, 1030), (720, 975), (780, 962), (860, 955), (960, 920), (975, 895), (1100, 895), (1200, 915), (1280, 980), (1370, 1005), (1450, 1053)])),
    C(F10, [(1003, 1508), (1003, 1490), (1050, 1470), (1100, 1420), (1135, 1360), (1110, 1310), (1118, 1240), (1055, 1170), (1085, 1100), (1135, 1040), (1175, 1060), (1200, 1065), (1270, 1043), (1350, 1065), (1450, 1152)]),
    C(F10, [(1245, 565), (1255, 550), (1290, 548), (1390, 585)]),
    C(F10, [(1245, 565), (1260, 590), (1320, 610), (1395, 650), (1360, 660), (1345, 685), (1370, 715), (1400, 720)]),
    C(F10, [(1400, 668), (1420, 700), (1450, 720)]),
    C(F9, [(395, 1080), (410, 1080)]),
    C(F9, [(1310, 1125), (1303, 1137)]),
]
isobar_rings = [
    C(F8, [(670, 690), (680, 678), (720, 678), (735, 695), (700, 708), (672, 700)]),
    C(F8, [(843, 680), (880, 640), (900, 660), (900, 680), (860, 700), (843, 695)]),
    C(F5, [(240, 800), (265, 785), (310, 803), (270, 820), (245, 815)]),
    C(F12, [(50, 630), (75, 610), (95, 610), (122, 632), (90, 650), (55, 650)]),
    C(F12, [(178, 650), (210, 630), (245, 625), (255, 632), (245, 655), (205, 663)]),
    C(F9, [(870, 250), (878, 238), (888, 255), (878, 265)]),
    C(F9, [(430, 1080), (460, 1060), (482, 1075), (480, 1105), (455, 1095)]),
    C(F10, [(1330, 940), (1360, 920), (1385, 920), (1395, 935), (1380, 958), (1340, 958)]),
    C(F10, [(1200, 525), (1215, 512), (1242, 527), (1228, 545)]),
]
isobar_dots = chain(C(F7, [(982, 1062)]), C(F4, [(802, 1060)]), C(F8, [(1392, 124)]))

# ---------- figure ----------
BG_TOP = '#06131c'
BG_FOOT = '#051722'
fig = plt.figure(figsize=(W / 100, H / 100), dpi=100, facecolor=BG_TOP)


def fx(x):
    return x / W


def fy(y):
    return 1 - y / H


def ax_px(l, t, r, b):
    return fig.add_axes([fx(l), fy(b), (r - l) / W, (b - t) / H])


fig.add_artist(Rectangle((0, 0), 1, fy(1275), transform=fig.transFigure, fc=BG_FOOT, ec='none', zorder=-5))
fig.add_artist(Rectangle((0, fy(1281)), 1, 6 / H, transform=fig.transFigure, fc='#55a89c', ec='none', zorder=-4))

cmap = LinearSegmentedColormap.from_list(
    'mslp', [((v - cmap_levels[0]) / (cmap_levels[-1] - cmap_levels[0]), c) for v, c in zip(cmap_levels, cmap_colors)])
norm = Normalize(cmap_levels[0], cmap_levels[-1])

ax = ax_px(MAP_L, MAP_T, MAP_R, MAP_B)
ax.set_facecolor(BG_TOP)
field = np.array([row_0, row_1, row_2, row_3, row_4, row_5, row_6, row_7, row_8, row_9])
dx = grid_x[1] - grid_x[0]
dy = grid_y[1] - grid_y[0]
ax.imshow(field, cmap=cmap, norm=norm, interpolation='bicubic', aspect='auto', alpha=0.92,
          extent=(grid_x[0] - dx / 2, grid_x[-1] + dx / 2, grid_y[-1] + dy / 2, grid_y[0] - dy / 2), zorder=1)
ax.set_xlim(MAP_L, MAP_R)
ax.set_ylim(MAP_B, MAP_T)
ax.set_axis_off()

for x in grid_lon:
    ax.axvline(x, color='white', alpha=0.11, lw=0.9, zorder=2)
for y in grid_lat:
    ax.axhline(y, color='white', alpha=0.11, lw=0.9, zorder=2)


def ring_path(pts, reverse=False):
    p = list(pts)
    if reverse:
        p = p[::-1]
    return p + [p[0]], [Path.MOVETO] + [Path.LINETO] * (len(p) - 1) + [Path.CLOSEPOLY]


def signed_area(p):
    a = np.array(p)
    return 0.5 * np.sum(a[:, 0] * np.roll(a[:, 1], -1) - np.roll(a[:, 0], -1) * a[:, 1])


LAND_RGBA = (0.118, 0.165, 0.196, 0.20)
EDGE = '#a5bccb'
EDGE_RGBA = (0.65, 0.74, 0.80, 0.6)
main_fill = coast_main + [(MAP_R + 3, C(F6, [(1510, 277)])[0][1]), (MAP_R + 3, MAP_B + 3), (coast_main[0][0], MAP_B + 3)]
v1, c1 = ring_path(main_fill)
v2, c2 = ring_path(black_sea, reverse=signed_area(black_sea) * signed_area(main_fill) > 0)
ax.add_patch(PathPatch(Path(v1 + v2, c1 + c2), facecolor=LAND_RGBA, edgecolor='none', zorder=3))
ax.plot(*zip(*coast_main), color=EDGE, lw=0.85, alpha=0.6, zorder=3.2)
ax.plot(*zip(*(black_sea + black_sea[:1])), color=EDGE, lw=0.85, alpha=0.6, zorder=3.2)
for isl in islands:
    v, c = ring_path(isl)
    ax.add_patch(PathPatch(Path(v, c), facecolor=LAND_RGBA, edgecolor=EDGE_RGBA, lw=0.85, zorder=3))
for b in borders:
    ax.plot(*zip(*b), color=EDGE, lw=0.85, alpha=0.62, zorder=3.2, solid_joinstyle='round')

ax.add_patch(PathPatch(Path(poland), facecolor=(0.91, 0.77, 0.54, 0.15), edgecolor='none', zorder=4))
ax.plot(*zip(*poland), color='#e9c891', lw=2.0, zorder=4.1, solid_joinstyle='round')


def smooth_path(pts, closed=False):
    if closed:
        pts = list(pts)
        m0 = ((pts[-1][0] + pts[0][0]) / 2, (pts[-1][1] + pts[0][1]) / 2)
        verts, codes = [m0], [Path.MOVETO]
        n = len(pts)
        for i in range(n):
            nxt = pts[(i + 1) % n]
            verts += [pts[i], ((pts[i][0] + nxt[0]) / 2, (pts[i][1] + nxt[1]) / 2)]
            codes += [Path.CURVE3, Path.CURVE3]
        return Path(verts, codes)
    verts, codes = [pts[0]], [Path.MOVETO]
    for i in range(1, len(pts) - 1):
        verts += [pts[i], ((pts[i][0] + pts[i + 1][0]) / 2, (pts[i][1] + pts[i + 1][1]) / 2)]
        codes += [Path.CURVE3, Path.CURVE3]
    verts.append(pts[-1])
    codes.append(Path.LINETO)
    return Path(verts, codes)


ISO = '#f3efe4'
for line in isobars:
    ax.add_patch(PathPatch(smooth_path(line), fc='none', ec=ISO, lw=1.5, alpha=0.93, zorder=5, capstyle='round', joinstyle='round'))
for line in isobar_rings:
    ax.add_patch(PathPatch(smooth_path(line, closed=True), fc='none', ec=ISO, lw=1.3, alpha=0.93, zorder=5))
ax.scatter(*zip(*isobar_dots), s=5, marker='o', color=ISO, linewidths=0, zorder=5)

for t, x, y, r in zip(iso_text, iso_x, iso_y, iso_rot):
    ax.text(x, y, t, color='#dfe6e4', alpha=0.82, fontsize=10.5, rotation=r, rotation_mode='anchor',
            ha='center', va='center', zorder=6)

# pressure centres
for k, v, x, y, ly in zip(centre_kind, centre_val, centre_x, centre_y, label_y):
    edge = '#6fb5ac' if k == 'H' else '#c48a8c'
    letter = '#93dccf' if k == 'H' else '#eeaaaa'
    ax.scatter([x], [y], s=800, facecolor=(0.085, 0.14, 0.17, 0.93), edgecolor=edge, linewidths=1.4,
               clip_on=False, zorder=7)
    ax.text(x, y - 1, k, color=letter, fontsize=21.5, fontweight='bold', ha='center', va='center',
            clip_on=False, zorder=8)
    ax.text(x, ly, str(v), color='#f8fafc', fontsize=11, fontweight='bold', ha='center', va='center', zorder=8,
            clip_on=False,
            bbox=dict(boxstyle='round,pad=0.22,rounding_size=0.12', fc=(0.09, 0.15, 0.18, 0.82), ec='none'))

# colour bar
cax = ax_px(1922, 242, 1944, 1047)
grad = np.linspace(cbar_hi, cbar_lo, 256).reshape(-1, 1)
cax.imshow(grad, cmap=cmap, norm=norm, aspect='auto', extent=(0, 1, cbar_lo, cbar_hi))
cax.imshow([[cbar_lo]], cmap=LinearSegmentedColormap.from_list('bt', [cbar_bottom_colour, cbar_bottom_colour]),
           aspect='auto', extent=(0, 1, cbar_lo, cbar_lo + 0.6))
cax.set_ylim(cbar_lo, cbar_hi)
cax.set_xticks([])
cax.yaxis.tick_right()
cax.set_yticks(cbar_ticks)
cax.set_yticklabels([str(t) for t in cbar_ticks])
cax.tick_params(axis='y', colors='#aab8c2', labelsize=10.4, length=4, width=0.8, pad=3)
for s in cax.spines.values():
    s.set_color('#33444f')
    s.set_linewidth(0.8)

# text
DJ = 'DejaVu Sans'
LT = 'Lato'
fig.text(fx(1933), fy(222), 'hPa', color='#aab8c2', fontsize=11, ha='center', va='center')
fig.text(fx(71), fy(45), 'MSLP PRESSURE • EUROPE', color='#f2f6fa', fontsize=21.3, fontweight='bold', ha='left', va='center', family=DJ)
fig.text(fx(71), fy(81.5), 'Mean sea-level pressure • isobars every 4 hPa • H / L pressure centres', color='#a9b8c2', fontsize=12.65, ha='left', va='center', family=DJ)
fig.text(fx(71), fy(1237), 'Data: NOAA / NCEP GFS (NOMADS) • GFS 2026-09-09 12 UTC • valid 2026-09-10 00 UTC', color='#a3b2bc', fontsize=11.2, ha='left', va='center', family=DJ)
fig.text(fx(1417), fy(1237), 'Visualisation: CentrumPogodowe.pl', color='#76909f', fontsize=11.2, ha='left', va='center', family=DJ)


def fitted(x, y, s, width, color, weight):
    t = fig.text(fx(x), fy(y), s, color=color, fontsize=20, fontweight=weight, ha='left', va='center', family=LT)
    w = t.get_window_extent(fig.canvas.get_renderer()).width
    t.set_fontsize(20 * width / w)
    return t


fitted(69, 1338, 'Wygenerowano przez CentrumPogodowe.pl', 1140, '#f4f8fb', 'bold')
fitted(69, 1414, 'Oficjalne źródło: NOAA / NCEP GFS (NOMADS)  •  Ważność: 10.09.2026, 00:00 UTC', 1080, '#bcd5e6', 'semibold')
fitted(69, 1475, 'Wizualizacja CentrumPogodowe.pl • dane źródłowe wskazane poniżej', 757, '#8fadc0', 'semibold')
fitted(69, 1527, 'Strona źródłowa: https://nomads.ncep.noaa.gov/', 487, '#7b96a9', 'semibold')

fig.savefig('out.png', dpi=100, facecolor=fig.get_facecolor())
